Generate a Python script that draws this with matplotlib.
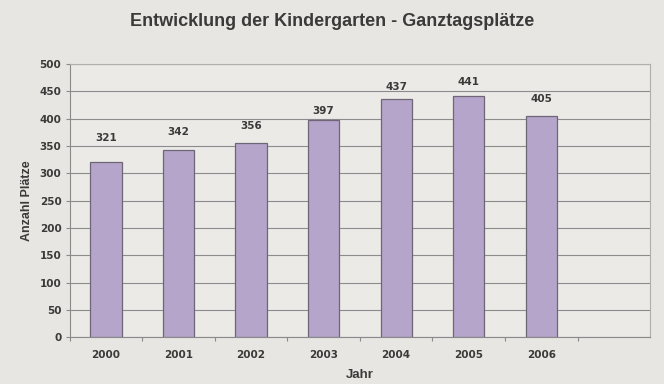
#! /usr/bin/env python

import numpy as np
import matplotlib.pyplot as plt

# Ganztagsplaetze im Kindergarten je Jahr
jahre = ['2000', '2001', '2002', '2003', '2004', '2005', '2006']
plaetze = [321, 342, 356, 397, 437, 441, 405]

# Abstand der Beschriftung (Mitte) ueber dem Balken, in Punkten
label_offset = [17, 13, 12, 6.5, 8, 10, 12]

bg = '#e7e6e2'
text_col = '#3b3a3a'
num_font = ['DejaVu Sans']	# breitere Ziffern fuer Achsen und Werte

plt.rcParams['font.family'] = ['Liberation Sans', 'DejaVu Sans']
plt.rcParams['font.weight'] = 'bold'

fig = plt.figure(figsize=(6.64, 3.84), dpi=100, facecolor=bg)
ax = fig.add_axes([0.105, 0.122, 0.874, 0.711], facecolor='#ebeae7')

x = np.arange(len(jahre))	# Positionen der Balken
ax.bar(x, plaetze, 0.43, color='#b6a5cb', edgecolor='#6e6676', linewidth=0.9, zorder=3)

# Werte ueber die Balken schreiben
for xi, v, off in zip(x, plaetze, label_offset):
	ax.annotate(str(v), (xi, v), xytext=(0, off), textcoords='offset points',
		ha='center', va='center', fontsize=7.5, color=text_col,
		fontweight='bold', family=num_font)

ax.set_ylim(0, 500)
ax.set_yticks(np.arange(0, 501, 50))
ax.set_xlim(-0.5, len(jahre) + 0.5)	# ein leerer Platz rechts

# Kategorienbeschriftung mittig, Teilstriche zwischen den Kategorien
ax.set_xticks(np.arange(len(jahre) + 1) - 0.5)
ax.set_xticklabels([])
ax.set_xticks(x, jahre, minor=True)
ax.tick_params(axis='x', which='minor', length=0, pad=9, labelcolor=text_col)
ax.tick_params(axis='x', which='major', length=3, color='#8a8a8a')
ax.tick_params(axis='y', length=3, color='#8a8a8a', labelcolor=text_col, pad=3)
for lab in ax.get_xticklabels(minor=True) + ax.get_yticklabels():
	lab.set_family(num_font)
	lab.set_fontsize(7.5)
	lab.set_fontweight('bold')

ax.yaxis.grid(True, color='#8c8c8c', linewidth=0.8, zorder=0)
ax.set_axisbelow(True)
for side in ['top', 'right']:
	ax.spines[side].set_color('#b0afac')
	ax.spines[side].set_linewidth(0.8)
for side in ['left', 'bottom']:
	ax.spines[side].set_color('#8a8a8a')
	ax.spines[side].set_linewidth(0.8)

ax.set_ylabel('Anzahl Plätze', fontsize=9, fontweight='bold', color=text_col, labelpad=5)
ax.set_xlabel('Jahr', fontsize=9.5, fontweight='bold', color=text_col, labelpad=7)
fig.suptitle('Entwicklung der Kindergarten - Ganztagsplätze', x=0.5, y=0.965,
	fontsize=13, fontweight='bold', color=text_col)

plt.savefig('out.png', dpi=100, facecolor=bg)
